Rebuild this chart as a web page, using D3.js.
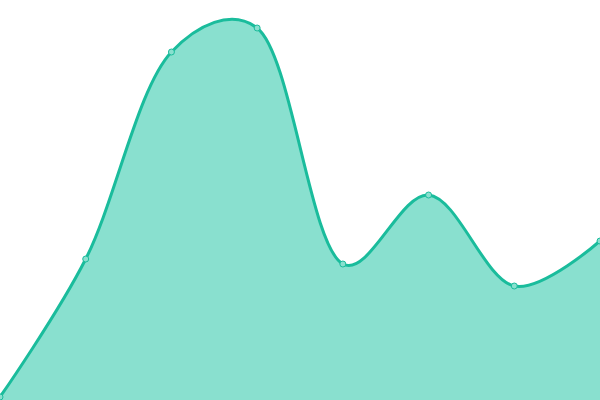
<!DOCTYPE html>
<meta charset="utf-8">

<head>
    <style>
        body { margin: 0; background: #fff; }
        svg { display: block; }
    </style>
    <script src="https://d3js.org/d3.v7.min.js"></script>
</head>

<body>
    <script>
        const width = 600
        const height = 400

        const categories = [0, 1, 2, 3, 4, 5, 6, 7]
        const values = [3, 141, 348, 372, 136, 205, 114, 159]

        const xScale = d3.scaleLinear()
            .domain([0, categories.length - 1])
            .range([0, width])

        const yScale = d3.scaleLinear()
            .domain([0, 400])
            .range([height, 0])

        const data = categories.map((c, i) => ({ x: c, y: values[i] }))

        const svg = d3.select("body").append("svg")
            .attr("width", width)
            .attr("height", height)

        const curve = d3.curveCatmullRom.alpha(0.3)

        const area = d3.area()
            .x(d => xScale(d.x))
            .y0(height)
            .y1(d => yScale(d.y))
            .curve(curve)

        const line = d3.line()
            .x(d => xScale(d.x))
            .y(d => yScale(d.y))
            .curve(curve)

        svg.append("path")
            .datum(data)
            .attr("d", area)
            .attr("fill", "#89e0cf")

        svg.append("path")
            .datum(data)
            .attr("d", line)
            .attr("fill", "none")
            .attr("stroke", "#1abc9c")
            .attr("stroke-width", 3)

        svg.selectAll("circle")
            .data(data)
            .enter()
            .append("circle")
            .attr("cx", d => xScale(d.x))
            .attr("cy", d => yScale(d.y))
            .attr("r", 3)
            .attr("fill", "#89e0cf")
            .attr("stroke", "#1abc9c")
            .attr("stroke-width", 1)
    </script>
</body>
